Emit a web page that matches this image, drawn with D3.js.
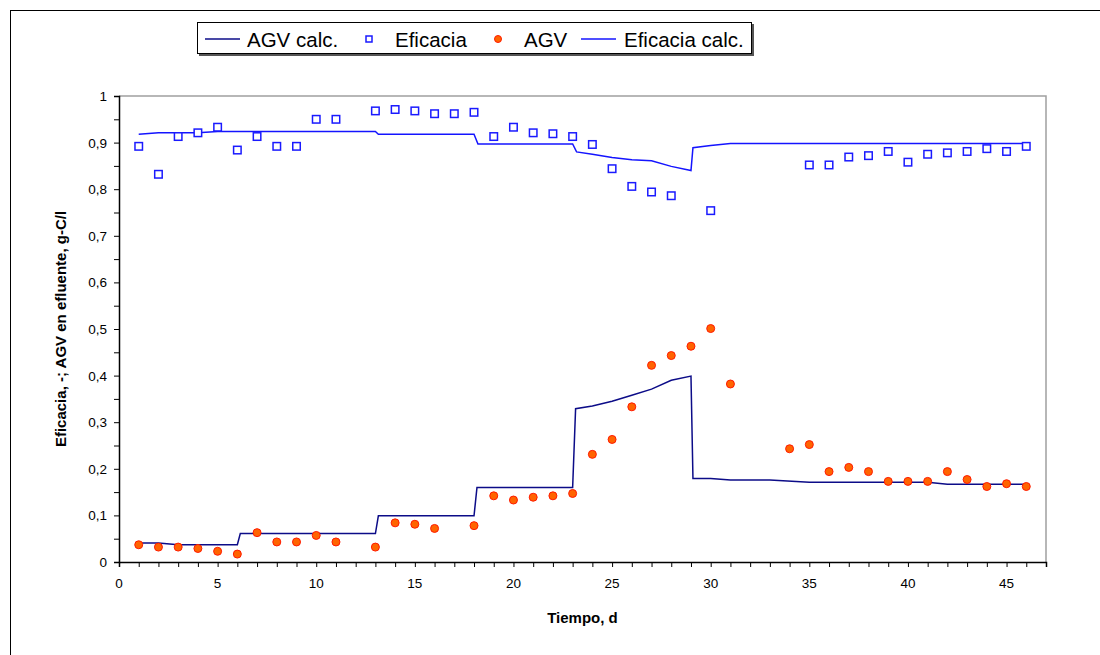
<!DOCTYPE html>
<html>
<head>
<meta charset="utf-8">
<script src="https://cdn.jsdelivr.net/npm/d3@7"></script>
<style>
  body { margin: 0; background: #fff; }
  text { font-family: "Liberation Sans", Arial, sans-serif; }
</style>
</head>
<body>
<svg id="chart"></svg>
<script>

// measured days (x) for both measured series
var days = d3.range(1, 47);

// measured efficiency, null where there is no measurement
var eficacia = [0.892, 0.832, 0.913, 0.921, 0.933, 0.884, 0.913, 0.892, 0.892, 0.950,
                0.950, null, 0.968, 0.971, 0.968, 0.962, 0.962, 0.965, 0.913, 0.933,
                0.921, 0.919, 0.913, 0.896, 0.844, 0.806, 0.794, 0.786, null, 0.754,
                null, null, null, null, 0.852, 0.852, 0.869, 0.872, 0.881, 0.858,
                0.875, 0.878, 0.881, 0.887, 0.881, 0.892];

// measured AGV in effluent, g-C/l
var agv = [0.037, 0.032, 0.032, 0.029, 0.023, 0.017, 0.063, 0.043, 0.043, 0.057,
           0.043, null, 0.032, 0.084, 0.081, 0.072, null, 0.078, 0.142, 0.133,
           0.139, 0.142, 0.147, 0.231, 0.263, 0.333, 0.422, 0.443, 0.463, 0.501,
           0.382, null, null, 0.243, 0.252, 0.194, 0.203, 0.194, 0.173, 0.173,
           0.173, 0.194, 0.177, 0.162, 0.168, 0.162];

// calculated curves, breakpoints as [day, value]
var agvCalc = [[1, 0.041], [2, 0.041], [3, 0.037], [6, 0.037], [6.15, 0.061],
               [13, 0.061], [13.15, 0.099], [18, 0.099], [18.15, 0.160], [23, 0.160],
               [23.15, 0.329], [24, 0.335], [25, 0.345], [26, 0.358], [27, 0.371],
               [28, 0.390], [29, 0.399], [29.1, 0.179], [30, 0.179], [31, 0.176],
               [33, 0.176], [35, 0.171], [41, 0.171], [42, 0.167], [46, 0.167]];

var eficaciaCalc = [[1, 0.918], [2, 0.921], [4, 0.921], [5, 0.924], [13, 0.924],
                    [13.15, 0.918], [18, 0.918], [18.2, 0.897], [23, 0.897], [23.2, 0.880],
                    [24, 0.875], [25, 0.868], [26, 0.863], [27, 0.861], [28, 0.849],
                    [29, 0.840], [29.1, 0.889], [30, 0.894], [31, 0.898], [46, 0.898]];

// tick labels
var xTicks = [0, 5, 10, 15, 20, 25, 30, 35, 40, 45];
var yTicks = [0, 0.1, 0.2, 0.3, 0.4, 0.5, 0.6, 0.7, 0.8, 0.9, 1];

var config = {
    w: 1100,
    h: 655,
    left: 119,
    right: 1046,
    top: 96,
    bottom: 562
};

var colors = {
    agvCalc: "#0c0c88",
    eficaciaCalc: "#1414ff",
    square: "#1a1aff",
    dotFill: "#ff6400",
    dotStroke: "#ff1a00"
};

var svg = d3.select("#chart")
  .attr("width", config.w)
  .attr("height", config.h);

var xScale = d3.scaleLinear().domain([0, 47]).range([config.left, config.right]);
var yScale = d3.scaleLinear().domain([0, 1]).range([config.bottom, config.top]);

var line = d3.line()
  .x(function(d) { return xScale(d[0]); })
  .y(function(d) { return yScale(d[1]); });

// outer frame (only top and left fall inside the picture)
svg.append("rect")
  .attr("x", 10.5)
  .attr("y", 10.5)
  .attr("width", 1200)
  .attr("height", 800)
  .attr("fill", "none")
  .attr("stroke", "#000")
  .attr("stroke-width", 1);

// top and right plot border in gray
svg.append("path")
  .attr("d", "M" + config.left + "," + config.top + "H" + config.right + "V" + config.bottom)
  .attr("fill", "none")
  .attr("stroke", "#a0a0a0")
  .attr("stroke-width", 1.5);

drawAxes();
drawLines();
drawPoints();
drawLegend();

function drawAxes() {
  // y axis with minor ticks every 0.05
  var yAxis = d3.axisLeft(yScale)
    .tickValues(d3.range(0, 1.001, 0.05))
    .tickSize(5)
    .tickFormat("");
  svg.append("g")
    .attr("transform", "translate(" + config.left + ",0)")
    .call(yAxis)
    .call(styleAxis);

  svg.append("g")
    .selectAll("text")
    .data(yTicks)
    .enter()
    .append("text")
      .attr("x", config.left - 12)
      .attr("y", function(d) { return yScale(d) + 5; })
      .attr("text-anchor", "end")
      .style("font-size", "13.5px")
      .text(function(d) { return String(d).replace(".", ","); });

  // x axis with a tick every day
  var xAxis = d3.axisBottom(xScale)
    .tickValues(d3.range(0, 48))
    .tickSize(5)
    .tickFormat("");
  svg.append("g")
    .attr("transform", "translate(0," + config.bottom + ")")
    .call(xAxis)
    .call(styleAxis);

  svg.append("g")
    .selectAll("text")
    .data(xTicks)
    .enter()
    .append("text")
      .attr("x", function(d) { return xScale(d); })
      .attr("y", config.bottom + 26)
      .attr("text-anchor", "middle")
      .style("font-size", "13.5px")
      .text(function(d) { return d; });

  svg.append("text")
    .attr("x", (config.left + config.right) / 2)
    .attr("y", 623)
    .attr("text-anchor", "middle")
    .style("font-size", "15px")
    .style("font-weight", "bold")
    .text("Tiempo, d");

  svg.append("text")
    .attr("transform", "translate(66," + (config.top + config.bottom) / 2 + ") rotate(-90)")
    .attr("text-anchor", "middle")
    .style("font-size", "15px")
    .style("font-weight", "bold")
    .text("Eficacia, -; AGV en efluente, g-C/l");
}

function styleAxis(g) {
  g.select(".domain").attr("stroke", "#000").attr("stroke-width", 1.5);
  g.selectAll(".tick line").attr("stroke", "#000").attr("stroke-width", 1);
}

function drawLines() {
  svg.append("path")
    .datum(eficaciaCalc)
    .attr("d", line)
    .attr("fill", "none")
    .attr("stroke", colors.eficaciaCalc)
    .attr("stroke-width", 1.5);

  svg.append("path")
    .datum(agvCalc)
    .attr("d", line)
    .attr("fill", "none")
    .attr("stroke", colors.agvCalc)
    .attr("stroke-width", 1.5);
}

function drawPoints() {
  var ef = days.map(function(d, i) { return [d, eficacia[i]]; })
    .filter(function(d) { return d[1] != null; });
  var ag = days.map(function(d, i) { return [d, agv[i]]; })
    .filter(function(d) { return d[1] != null; });

  svg.append("g")
    .selectAll("rect")
    .data(ef)
    .enter()
    .append("rect")
      .attr("x", function(d) { return xScale(d[0]) - 3.75; })
      .attr("y", function(d) { return yScale(d[1]) - 3.75; })
      .attr("width", 7.5)
      .attr("height", 7.5)
      .attr("fill", "#fff")
      .attr("stroke", colors.square)
      .attr("stroke-width", 1.5);

  svg.append("g")
    .selectAll("circle")
    .data(ag)
    .enter()
    .append("circle")
      .attr("cx", function(d) { return xScale(d[0]); })
      .attr("cy", function(d) { return yScale(d[1]); })
      .attr("r", 4)
      .attr("fill", colors.dotFill)
      .attr("stroke", colors.dotStroke)
      .attr("stroke-width", 1);
}

function drawLegend() {
  var g = svg.append("g").attr("name", "legend");

  // shadow, then box
  g.append("rect")
    .attr("x", 199).attr("y", 24)
    .attr("width", 555).attr("height", 32)
    .attr("fill", "#555");
  g.append("rect")
    .attr("x", 197.5).attr("y", 22.5)
    .attr("width", 554).attr("height", 31)
    .attr("fill", "#fff")
    .attr("stroke", "#000")
    .attr("stroke-width", 1);

  var cy = 39;
  g.append("line")
    .attr("x1", 205).attr("x2", 240).attr("y1", cy).attr("y2", cy)
    .attr("stroke", colors.agvCalc).attr("stroke-width", 1.5);
  g.append("rect")
    .attr("x", 366).attr("y", cy - 3).attr("width", 6).attr("height", 6)
    .attr("fill", "#fff").attr("stroke", colors.square).attr("stroke-width", 1.5);
  g.append("circle")
    .attr("cx", 498).attr("cy", cy).attr("r", 3.5)
    .attr("fill", colors.dotFill).attr("stroke", colors.dotStroke);
  g.append("line")
    .attr("x1", 581).attr("x2", 616).attr("y1", cy).attr("y2", cy)
    .attr("stroke", colors.eficaciaCalc).attr("stroke-width", 1.5);

  var labels = [["AGV calc.", 247], ["Eficacia", 395], ["AGV", 524], ["Eficacia calc.", 624]];
  g.selectAll("text.leg")
    .data(labels)
    .enter()
    .append("text")
      .attr("class", "leg")
      .attr("x", function(d) { return d[1]; })
      .attr("y", cy + 7.5)
      .style("font-size", "20.5px")
      .text(function(d) { return d[0]; });
}

</script>
</body>
</html>
